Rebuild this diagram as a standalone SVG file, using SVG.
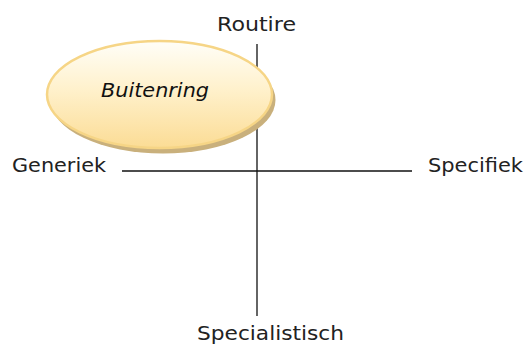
<svg xmlns="http://www.w3.org/2000/svg" width="529" height="346" viewBox="0 0 529 346">
  <defs>
    <linearGradient id="ringFill" x1="0" y1="0" x2="0" y2="1">
      <stop offset="0" stop-color="#fffef8"/>
      <stop offset="0.45" stop-color="#fff1cc"/>
      <stop offset="1" stop-color="#fbdc95"/>
    </linearGradient>
  </defs>
  <style>
    .axis { stroke: #111; stroke-width: 1.3; fill: none; }
    .label { font-family: "DejaVu Sans", Verdana, sans-serif; font-size: 20px; fill: #222; }
    .ring-title { font-family: "DejaVu Sans", Verdana, sans-serif; font-size: 20px; font-style: italic; fill: #111; }
  </style>

  <rect width="529" height="346" fill="#fff"/>

  <!-- axes -->
  <g id="connectors">
    <line class="axis" x1="257" y1="44" x2="257" y2="316"/>
    <line class="axis" x1="122" y1="171" x2="412" y2="171"/>
  </g>

  <!-- quadrant ring -->
  <g id="buitenring">
    <ellipse cx="163" cy="100" rx="112.5" ry="53.5" fill="#c9b07c"/>
    <ellipse cx="159.5" cy="94.5" rx="112.5" ry="53.5" fill="url(#ringFill)" stroke="#f6d586" stroke-width="2.5"/>
    <text class="ring-title" x="155" y="97" text-anchor="middle" textLength="108" lengthAdjust="spacingAndGlyphs">Buitenring</text>
  </g>

  <!-- axis labels -->
  <g id="routire">
    <text class="label" x="217" y="31" font-size="21" textLength="79" lengthAdjust="spacingAndGlyphs">Routire</text>
  </g>
  <g id="generiek">
    <text class="label" x="12" y="172" textLength="94" lengthAdjust="spacingAndGlyphs">Generiek</text>
  </g>
  <g id="specifiek">
    <text class="label" x="428" y="172" textLength="95" lengthAdjust="spacingAndGlyphs">Specifiek</text>
  </g>
  <g id="specialistisch">
    <text class="label" x="197" y="340" font-size="19" textLength="147" lengthAdjust="spacingAndGlyphs">Specialistisch</text>
  </g>
</svg>
